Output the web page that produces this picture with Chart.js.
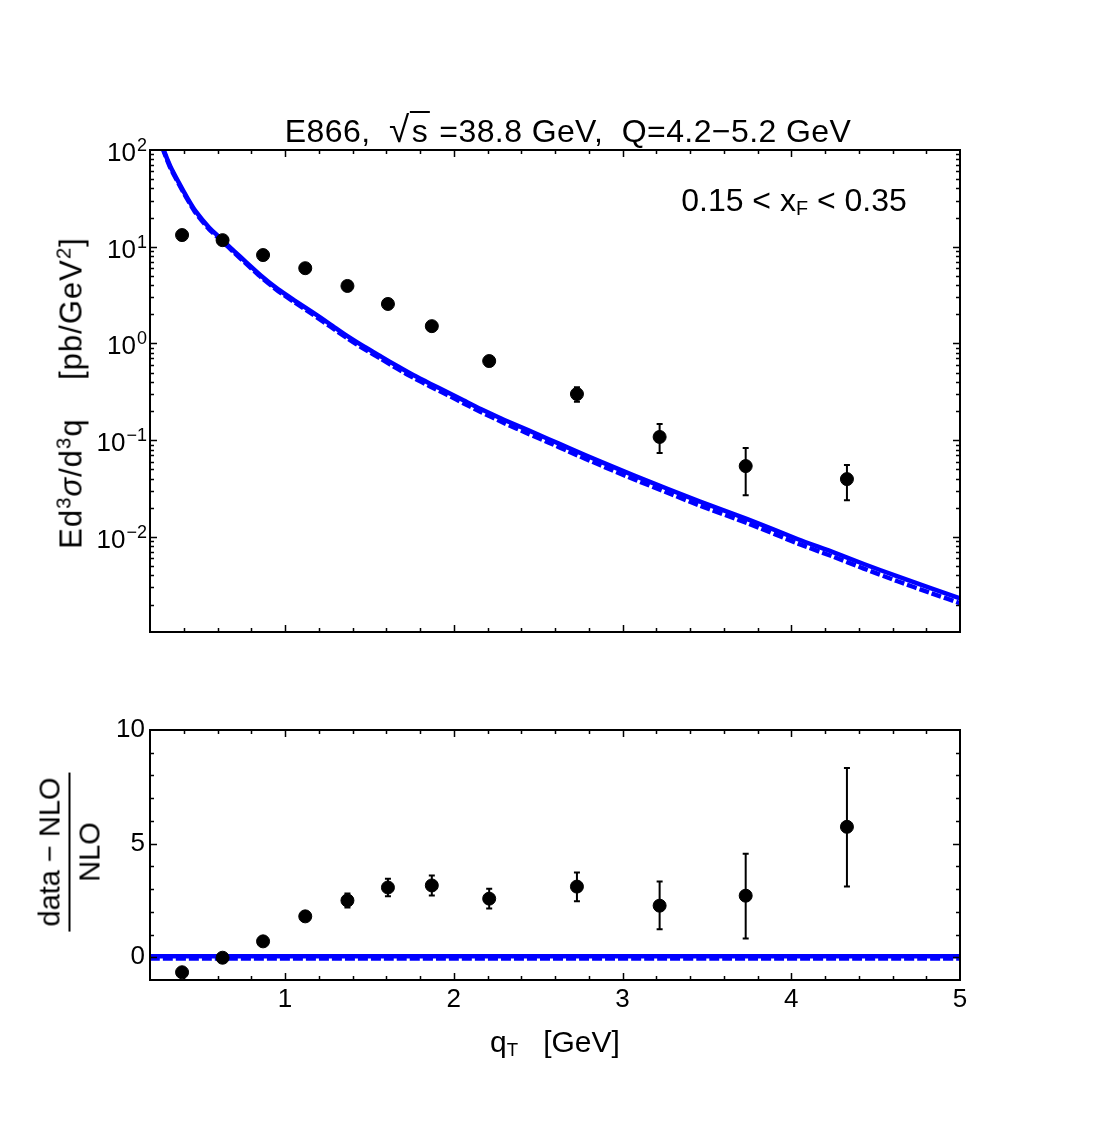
<!DOCTYPE html>
<html>
<head>
<meta charset="utf-8">
<script src="https://cdn.jsdelivr.net/npm/chart.js@4.4.0/dist/chart.umd.min.js"></script>
<style>
body { margin: 0; background: #fff; }
#wrap { position: relative; width: 1111px; height: 1132px; background: #fff; color: #000;
  font-family: "Liberation Sans", Arial, Helvetica, sans-serif; }
canvas { position: absolute; left: 0; }
.lbl { position: absolute; white-space: nowrap; line-height: 1; }
sup { font-size: 0.66em; vertical-align: 0.55em; line-height: 0; }
sub { font-size: 0.62em; vertical-align: -0.22em; line-height: 0; }
</style>
</head>
<body>
<div id="wrap">
  <canvas id="topChart" width="1111" height="680" style="top:0"></canvas>
  <canvas id="ratioChart" width="1111" height="452" style="top:680px"></canvas>

  <div class="lbl" style="left:568px; top:112px; font-size:32px; letter-spacing:0.4px; transform:translateX(-50%)">E866,&nbsp;&nbsp;<span style="font-size:1.15em">√</span><span style="border-top:2px solid #000; padding:0 2px">s</span> =38.8 GeV,&nbsp; Q=4.2−5.2 GeV</div>
  <div class="lbl" style="left:794px; top:184px; font-size:32px; transform:translateX(-50%)">0.15 &lt; x<sub>F</sub> &lt; 0.35</div>
  <div class="lbl" style="left:71px; top:393px; font-size:31px; letter-spacing:1px; transform:translate(-50%,-50%) rotate(-90deg)">Ed<sup>3</sup><i>σ</i>/d<sup>3</sup>q&nbsp;&nbsp;&nbsp; [pb/GeV<sup>2</sup>]</div>
  <div class="lbl" style="left:70px; top:852px; font-size:29px; transform:translate(-50%,-50%) rotate(-90deg)">
    <div style="display:flex; flex-direction:column; align-items:center">
      <div style="padding:0 5px 4px">data − NLO</div>
      <div style="align-self:stretch; border-top:2px solid #000"></div>
      <div style="padding-top:5px">NLO</div>
    </div>
  </div>
  <div class="lbl" style="left:555px; top:1027px; font-size:30px; transform:translateX(-50%)">q<sub>T</sub>&nbsp;&nbsp; [GeV]</div>
</div>

<script>
// E866 data, 0.15 < xF < 0.35
const qT = [0.39, 0.63, 0.87, 1.12, 1.37, 1.61, 1.87, 2.21, 2.73, 3.22, 3.73, 4.33];
const xsec = [13.2, 11.7, 8.2, 6.0, 3.93, 2.56, 1.51, 0.658, 0.300, 0.108, 0.054, 0.0396];
const xsecLo = [12.6, 11.2, 7.8, 5.7, 3.70, 2.40, 1.40, 0.60, 0.250, 0.0736, 0.027, 0.024];
const xsecHi = [13.8, 12.2, 8.6, 6.3, 4.15, 2.72, 1.62, 0.72, 0.353, 0.147, 0.0828, 0.0553];

const ratio = [-0.66, -0.02, 0.70, 1.80, 2.50, 3.07, 3.16, 2.58, 3.11, 2.27, 2.71, 5.74];
const ratioLo = [-0.70, -0.06, 0.66, 1.72, 2.19, 2.68, 2.72, 2.15, 2.46, 1.23, 0.83, 3.11];
const ratioHi = [-0.62, 0.02, 0.74, 1.88, 2.81, 3.46, 3.60, 3.02, 3.73, 3.33, 4.56, 8.33];

// NLO band (upper / lower edge)
const nloX = [0.25, 0.28, 0.32, 0.37, 0.42, 0.47, 0.55, 0.63, 0.70, 0.76, 0.86, 0.96, 1.06, 1.16,
  1.27, 1.37, 1.47, 1.57, 1.67, 1.76, 1.86, 1.96, 2.06, 2.16, 2.30, 2.44, 2.56, 2.68, 2.87,
  3.07, 3.27, 3.46, 3.74, 4.04, 4.24, 4.43, 4.63, 4.83, 5.00];
const nloHi = [147, 101.5, 68, 46.2, 32.2, 23.3, 15.8, 11.7, 8.95, 7.18, 4.99, 3.62, 2.76, 2.12,
  1.57, 1.19, 0.925, 0.730, 0.577, 0.471, 0.384, 0.315, 0.257, 0.210, 0.162, 0.127, 0.103, 0.0834, 0.0600,
  0.0431, 0.0313, 0.0232, 0.0153, 0.00946, 0.00703, 0.00525, 0.00390, 0.00294, 0.00232];
const nloLo = [143, 98.5, 66, 44.8, 31.2, 22.5, 15.2, 11.3, 8.65, 6.92, 4.81, 3.48, 2.64, 2.02,
  1.49, 1.13, 0.875, 0.690, 0.543, 0.443, 0.360, 0.295, 0.240, 0.196, 0.150, 0.117, 0.095, 0.0766, 0.0550,
  0.0393, 0.0285, 0.0210, 0.0139, 0.00854, 0.00633, 0.00471, 0.00348, 0.00262, 0.00206];

const zeroX = [0.2, 5.0];
const zeroHi = [0.05, 0.05];
const zeroLo = [-0.05, -0.05];

const xTicks = [1, 2, 3, 4, 5];
const topTickExps = [-2, -1, 0, 1, 2];
const ratioTicks = [0, 5, 10];

const FONT = '"Liberation Sans", Arial, Helvetica, sans-serif';
Chart.defaults.font.family = FONT;
Chart.defaults.color = '#000';

const pts = (xs, ys) => xs.map((v, i) => ({ x: v, y: ys[i] }));

// vertical error bars with small caps
const errorBars = {
  id: 'errorBars',
  afterDatasetsDraw(chart, args, opts) {
    const { ctx, scales: { x, y } } = chart;
    ctx.save();
    ctx.strokeStyle = '#000';
    ctx.lineWidth = 2;
    opts.xs.forEach((v, i) => {
      const px = x.getPixelForValue(v);
      const y1 = y.getPixelForValue(opts.lo[i]);
      const y2 = y.getPixelForValue(opts.hi[i]);
      ctx.beginPath();
      ctx.moveTo(px, y1); ctx.lineTo(px, y2);
      ctx.moveTo(px - 3, y1); ctx.lineTo(px + 3, y1);
      ctx.moveTo(px - 3, y2); ctx.lineTo(px + 3, y2);
      ctx.stroke();
    });
    ctx.restore();
  }
};

// box with inward ticks on all four sides
const frame = {
  id: 'frame',
  afterDraw(chart, args, opts) {
    const { ctx, chartArea: a, scales: { x, y } } = chart;
    ctx.save();
    ctx.strokeStyle = '#000';
    ctx.lineWidth = 1.5;
    ctx.beginPath();
    for (let i = 2; i < 25; i++) {
      const v = i * 0.2;
      const len = i % 5 === 0 ? 7 : 4;
      const px = Math.round(x.getPixelForValue(v)) + 0.5;
      ctx.moveTo(px, a.bottom); ctx.lineTo(px, a.bottom - len);
      ctx.moveTo(px, a.top); ctx.lineTo(px, a.top + len);
    }
    opts.yTicks.forEach(t => {
      const py = Math.round(y.getPixelForValue(t.v)) + 0.5;
      ctx.moveTo(a.left, py); ctx.lineTo(a.left + t.len, py);
      ctx.moveTo(a.right, py); ctx.lineTo(a.right - t.len, py);
    });
    ctx.stroke();
    ctx.lineWidth = 2;
    ctx.strokeRect(a.left, a.top, a.right - a.left, a.bottom - a.top);
    ctx.restore();
  }
};

// 10^n tick labels for the log axis
const logLabels = {
  id: 'logLabels',
  afterDraw(chart) {
    const { ctx, scales: { y } } = chart;
    ctx.save();
    ctx.fillStyle = '#000';
    ctx.textAlign = 'left';
    ctx.textBaseline = 'alphabetic';
    topTickExps.forEach(e => {
      const py = y.getPixelForValue(Math.pow(10, e));
      const exp = e < 0 ? '\u2212' + (-e) : String(e);
      ctx.font = '18px ' + FONT;
      const ew = ctx.measureText(exp).width;
      ctx.font = '26px ' + FONT;
      const bw = ctx.measureText('10').width;
      const right = 147;
      ctx.fillText('10', right - ew - bw - 1, py + 11);
      ctx.font = '18px ' + FONT;
      ctx.fillText(exp, right - ew, py + 1);
    });
    ctx.restore();
  }
};

// tick lists for the frame plugin
const logTicks = [];
for (let d = -3; d <= 2; d++) {
  for (let m = 1; m <= 9; m++) {
    const v = m * Math.pow(10, d);
    if (v > 0.00105 && v < 99.9) logTicks.push({ v: v, len: m === 1 ? 7 : 4 });
  }
}
const linTicks = [];
for (let v = 0; v < 10; v++) linTicks.push({ v: v, len: v % 5 === 0 ? 7 : 4 });

const curve = (xs, ys, dash) => ({
  data: pts(xs, ys),
  showLine: true,
  pointRadius: 0,
  borderColor: '#0000ff',
  borderWidth: 4.5,
  borderDash: dash,
  tension: 0.2
});

const markers = (xs, ys) => ({
  data: pts(xs, ys),
  showLine: false,
  pointRadius: 6.5,
  pointBackgroundColor: '#000',
  pointBorderColor: '#000',
  pointBorderWidth: 1
});

new Chart(document.getElementById('topChart'), {
  type: 'scatter',
  data: {
    datasets: [
      markers(qT, xsec),
      curve(nloX, nloHi, []),
      curve(nloX, nloLo, [10, 3])
    ]
  },
  options: {
    responsive: false,
    animation: false,
    devicePixelRatio: 1,
    layout: { padding: { left: 50, right: 151, top: 150, bottom: 48 } },
    plugins: {
      legend: { display: false },
      tooltip: { enabled: false },
      errorBars: { xs: qT, lo: xsecLo, hi: xsecHi },
      frame: { yTicks: logTicks }
    },
    scales: {
      x: {
        type: 'linear', min: 0.2, max: 5,
        ticks: { display: false },
        grid: { display: false, drawTicks: false },
        border: { display: false },
        afterFit(s) { s.height = 0; }
      },
      y: {
        type: 'logarithmic', min: 0.00104, max: 100, bounds: 'data',
        ticks: { display: false },
        grid: { display: false, drawTicks: false },
        border: { display: false },
        afterFit(s) { s.width = 100; }
      }
    }
  },
  plugins: [errorBars, frame, logLabels]
});

new Chart(document.getElementById('ratioChart'), {
  type: 'scatter',
  data: {
    datasets: [
      markers(qT, ratio),
      curve(zeroX, zeroHi, []),
      curve(zeroX, zeroLo, [10, 3])
    ]
  },
  options: {
    responsive: false,
    animation: false,
    devicePixelRatio: 1,
    layout: { padding: { left: 50, right: 151, top: 50, bottom: 92 } },
    plugins: {
      legend: { display: false },
      tooltip: { enabled: false },
      errorBars: { xs: qT, lo: ratioLo, hi: ratioHi },
      frame: { yTicks: linTicks }
    },
    scales: {
      x: {
        type: 'linear', min: 0.2, max: 5,
        afterBuildTicks(s) { s.ticks = xTicks.map(v => ({ value: v })); },
        ticks: { font: { size: 26 }, padding: 4, maxRotation: 0 },
        grid: { display: false, drawTicks: false },
        border: { display: false },
        afterFit(s) { s.height = 60; }
      },
      y: {
        type: 'linear', min: -1, max: 10,
        afterBuildTicks(s) { s.ticks = ratioTicks.map(v => ({ value: v })); },
        ticks: { font: { size: 26 }, padding: 5 },
        grid: { display: false, drawTicks: false },
        border: { display: false },
        afterFit(s) { s.width = 100; }
      }
    }
  },
  plugins: [errorBars, frame]
});
</script>
</body>
</html>
